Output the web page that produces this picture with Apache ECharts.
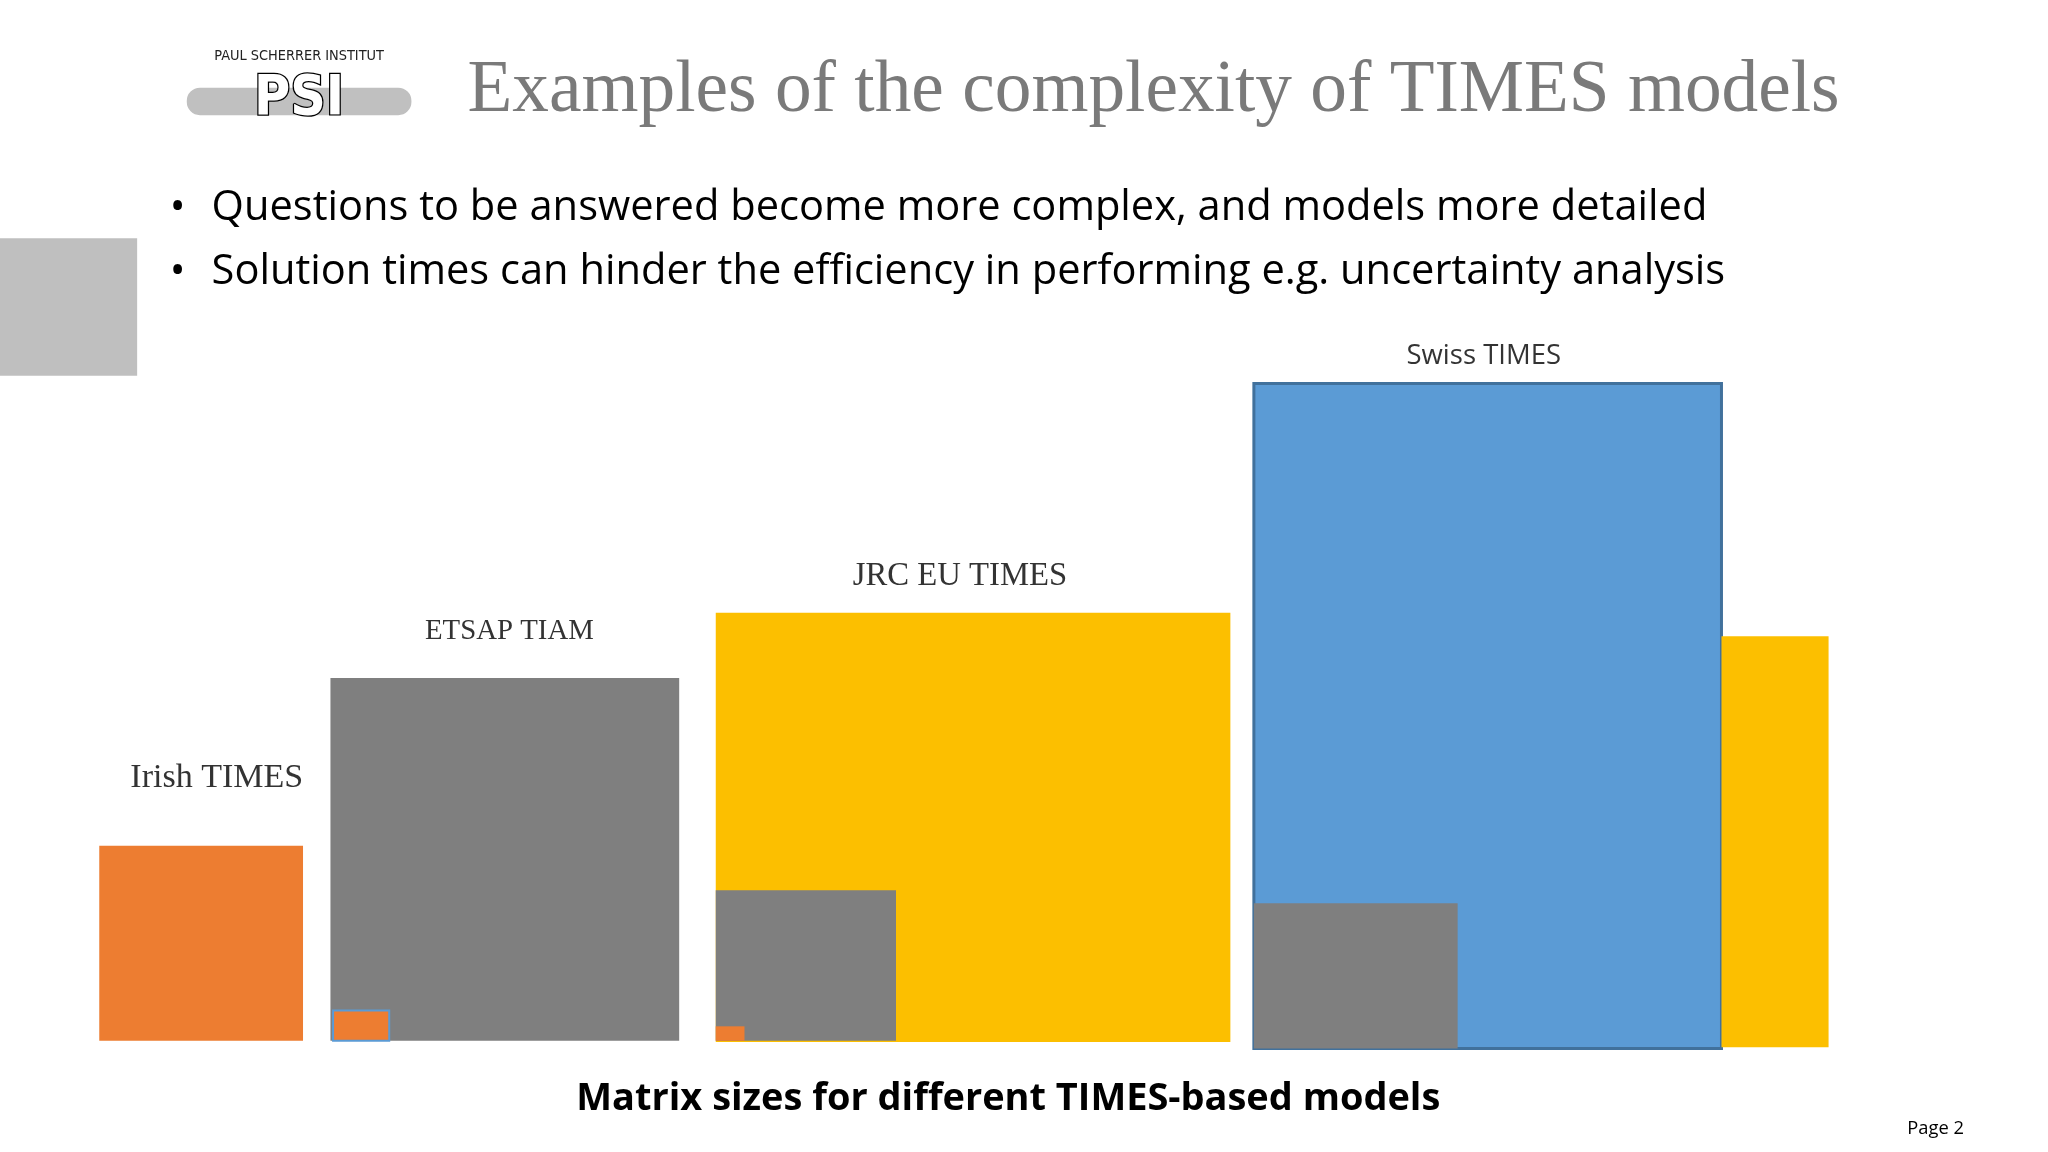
<!DOCTYPE html>
<html><head><meta charset="utf-8">
<script src="https://cdn.jsdelivr.net/npm/echarts@6/dist/echarts.min.js"></script>
<style>html,body{margin:0;background:#fff}#c{width:2048px;height:1152px}</style>
</head><body><div id="c"></div>
<script>
// Matrix blocks (in slide units): name, x start, width, bottom, height, colour
const blockNames = ['Irish', 'ETSAP', 'ETSAP-inner', 'JRC', 'JRC-gray', 'JRC-orange', 'Swiss', 'Swiss-gray', 'Swiss-yellow'];
const blockX =      [76, 253, 255, 548, 548, 548, 960, 960, 1318];
const blockW =      [156, 267, 43, 394, 138, 22, 358, 156, 82];
const blockBottom = [795, 795, 795, 796, 795, 795, 801, 801, 800];
const blockH =      [149, 277, 23, 328, 115, 11, 508, 111, 314];
const blockColor =  ['#ed7d31', '#7f7f7f', '#ed7d31', '#fcbf00', '#7f7f7f', '#ed7d31', '#5b9bd5', '#7f7f7f', '#fcbf00'];
const modelLabels = ['Irish TIMES', 'ETSAP TIAM', 'JRC EU TIMES', 'Swiss TIMES'];
const XMAX = 1568, YMAX = 880;
const SX = 2048 / XMAX, SY = 1152 / YMAX;

const chart = echarts.init(document.getElementById('c'));
const data = blockX.map((x, i) => [x, blockBottom[i], x + blockW[i], blockBottom[i] - blockH[i], i]);
const serif = 'Liberation Serif';
function txt(x, y, s, size, font, color, weight, align, extra) {
  return { type: 'text', x: x * SX, y: y * SY, style: Object.assign({ text: s, fontSize: size * SY, fontFamily: font, fill: color, fontWeight: weight || 'normal', align: align || 'center', verticalAlign: 'middle' }, extra || {}) };
}
chart.setOption({
  animation: false,
  grid: { left: 0, right: 0, top: 0, bottom: 0 },
  xAxis: { type: 'value', min: 0, max: XMAX, show: false },
  yAxis: { type: 'value', min: 0, max: YMAX, inverse: true, show: false },
  series: [{
    type: 'custom',
    data: data,
    renderItem: function (params, api) {
      const p0 = api.coord([api.value(0), api.value(1)]);
      const p1 = api.coord([api.value(2), api.value(3)]);
      const i = api.value(4);
      const blue = i === 6;
      return { type: 'rect', shape: { x: p0[0], y: p1[1], width: p1[0] - p0[0], height: p0[1] - p1[1] },
        style: { fill: blockColor[i], stroke: blue ? '#41719c' : (i === 2 ? '#5b9bd5' : null), lineWidth: blue ? 3 : 2 } };
    }
  }],
  graphic: [
    { type: 'rect', shape: { x: 0, y: 182 * SY, width: 105 * SX, height: 105 * SY }, style: { fill: '#bfbfbf' } },
    { type: 'rect', shape: { x: 143 * SX, y: 67 * SY, width: 172 * SX, height: 21 * SY, r: 10 * SY }, style: { fill: '#c0c0c0' } },
    txt(229, 76, 'PSI', 42, 'DejaVu Sans Condensed', '#ffffff', 'bold', 'center', { stroke: '#000', lineWidth: 2.5 }),
    txt(229, 43, 'PAUL SCHERRER INSTITUT', 11, 'DejaVu Sans Condensed', '#222', 'normal'),
    txt(358, 70, 'Examples of the complexity of TIMES models', 56, serif, '#7a7a7a', 'normal', 'left'),
    txt(130, 159, '•', 32, 'Open Sans', '#000', 'normal', 'left'),
    txt(162, 159, 'Questions to be answered become more complex, and models more detailed', 31.8, 'Open Sans', '#000', 'normal', 'left'),
    txt(130, 208, '•', 32, 'Open Sans', '#000', 'normal', 'left'),
    txt(162, 208, 'Solution times can hinder the efficiency in performing e.g. uncertainty analysis', 31.8, 'Open Sans', '#000', 'normal', 'left'),
    txt(166, 594, modelLabels[0], 26, serif, '#333', 'normal'),
    txt(390, 482, modelLabels[1], 22, serif, '#333', 'normal'),
    txt(735, 440, modelLabels[2], 25, serif, '#333', 'normal'),
    txt(1136, 272, modelLabels[3], 21, 'Open Sans', '#333', 'normal'),
    txt(772, 840, 'Matrix sizes for different TIMES-based models', 29, 'Open Sans', '#000', 'bold'),
    txt(1482, 862, 'Page 2', 14, 'Open Sans', '#000', 'normal')
  ]
});
</script></body></html>
